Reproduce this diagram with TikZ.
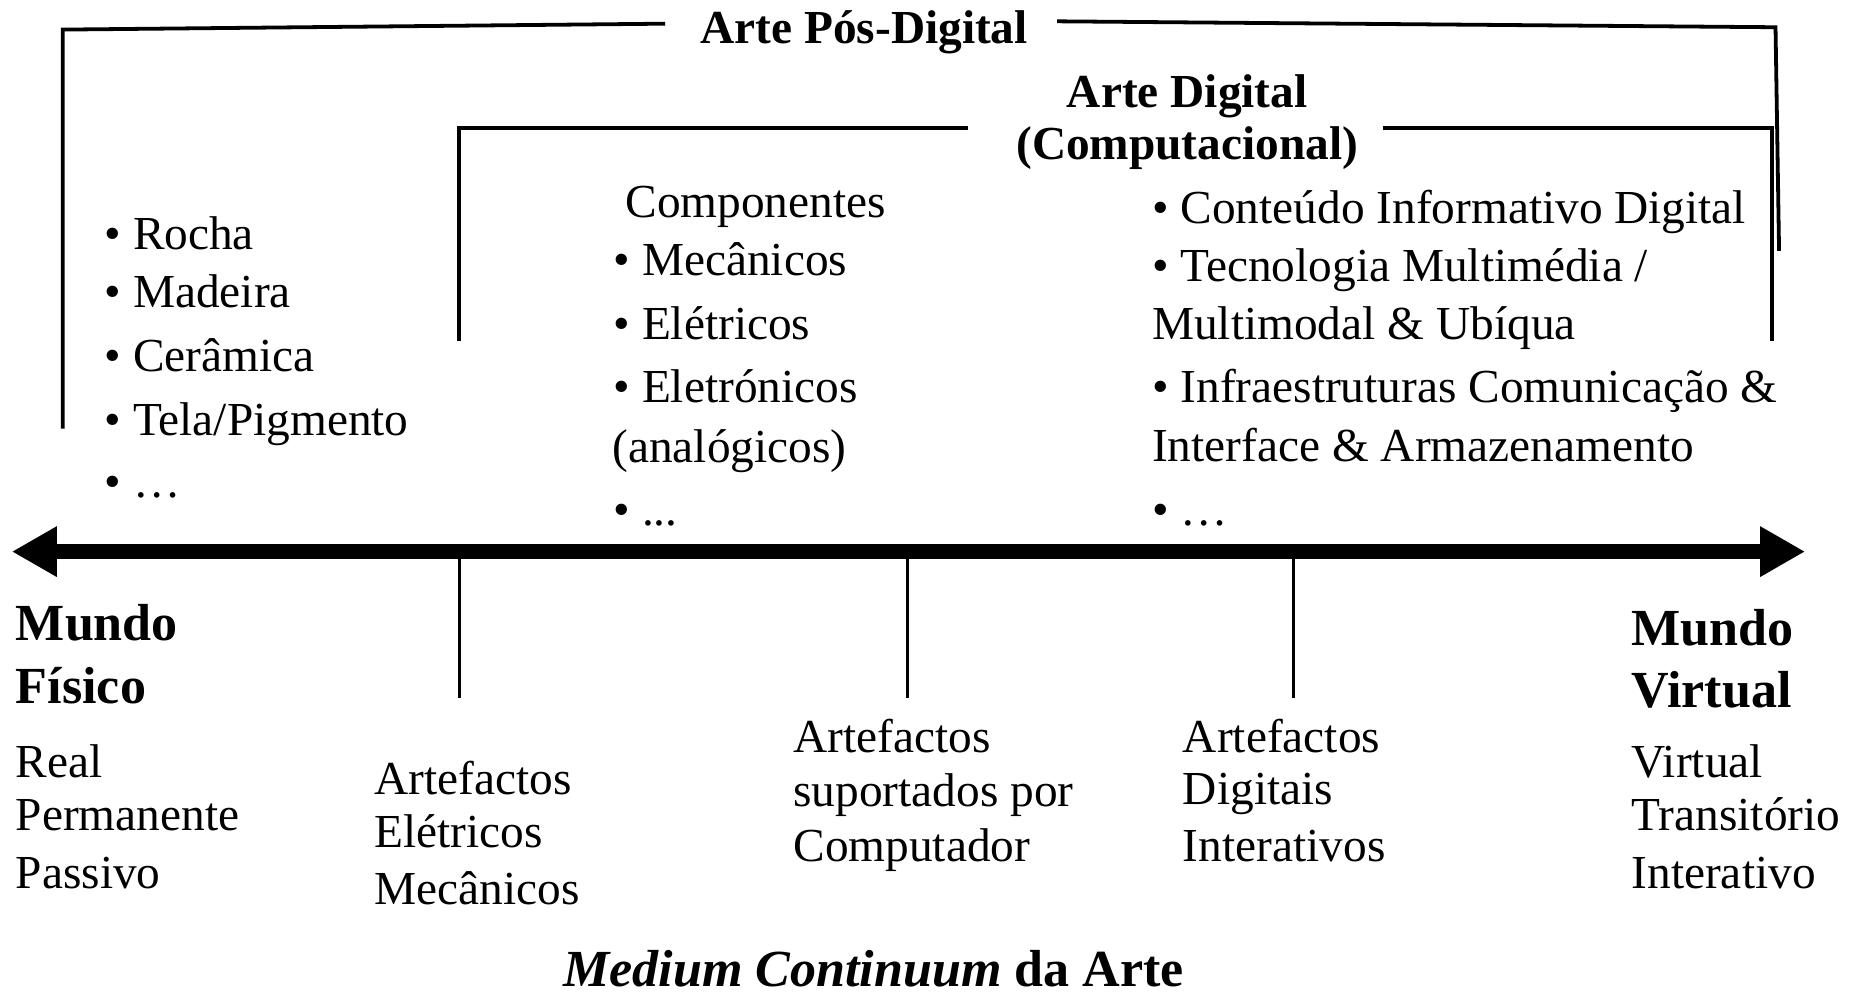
\documentclass[tikz,border=0pt]{standalone}
\usepackage{fontspec}
\setmainfont{Liberation Serif}
\usetikzlibrary{arrows.meta}
\tikzset{
  txt/.style={anchor=base west, inner sep=0pt, font=\fontsize{20}{24}\selectfont},
  ttl/.style={anchor=base, inner sep=0pt, font=\fontsize{20}{24}\selectfont\bfseries},
  big/.style={anchor=base west, inner sep=0pt, font=\fontsize{22}{26}\selectfont\bfseries},
  brk/.style={line width=1.6pt},
  tick/.style={line width=1.3pt},
  axis/.style={line width=6.3pt, {Triangle[length=19pt,width=20pt]}-{Triangle[length=19pt,width=20pt]}}
}
\begin{document}
\begin{tikzpicture}[x=0.5pt,y=-0.5pt]
\useasboundingbox (0,0) rectangle (1568,842);
% titles
\node[ttl] (t1) at (730,37) {Arte Pós-Digital};
\node[ttl] (t2a) at (1003,91) {Arte Digital};
\node[ttl] (t2b) at (1003,135) {(Computacional)};
% bracket coordinates
\coordinate (o1) at (53,362);
\coordinate (o2) at (53,25);
\coordinate (o3) at (562,20);
\coordinate (o4) at (893,18);
\coordinate (o5) at (1500,23);
\coordinate (o6) at (1503,212);
\coordinate (i1) at (388,288);
\coordinate (i2) at (388,108);
\coordinate (i3) at (818,108);
\coordinate (i4) at (1168,108);
\coordinate (i5) at (1497,108);
\coordinate (i6) at (1497,288);
\draw[brk] (o1) -- (o2) -- (o3);
\draw[brk] (o4) -- (o5) -- (o6);
\draw[brk] (i1) -- (i2) -- (i3);
\draw[brk] (i4) -- (i5) -- (i6);
% left list
\node[txt] (l1) at (88,211) {• Rocha};
\node[txt] (l2) at (88,260) {• Madeira};
\node[txt] (l3) at (88,314) {• Cerâmica};
\node[txt] (l4) at (88,368) {• Tela/Pigmento};
\node[txt] (l5) at (88,420) {• …};
% middle list
\node[txt] (m0) at (528,184) {Componentes};
\node[txt] (m1) at (518,233) {• Mecânicos};
\node[txt] (m2) at (518,287) {• Elétricos};
\node[txt] (m3) at (518,340) {• Eletrónicos};
\node[txt] (m4) at (517,391) {(analógicos)};
\node[txt] (m5) at (518,444) {• ...};
% right list
\node[txt] (r1) at (973,189) {• Conteúdo Informativo Digital};
\node[txt] (r2) at (973,238) {• Tecnologia Multimédia /};
\node[txt] (r3) at (973,287) {Multimodal \& Ubíqua};
\node[txt] (r4) at (973,340) {• Infraestruturas Comunicação \&};
\node[txt] (r5) at (973,390) {Interface \& Armazenamento};
\node[txt] (r6) at (973,444) {• …};
% axis
\coordinate (L) at (10,466);
\coordinate (R) at (1525,466);
\draw[axis] (L) -- (R);
\coordinate (k1a) at (388,466); \coordinate (k1b) at (388,590);
\coordinate (k2a) at (767,466); \coordinate (k2b) at (767,590);
\coordinate (k3a) at (1093,466); \coordinate (k3b) at (1093,590);
\draw[tick] (k1a) -- (k1b);
\draw[tick] (k2a) -- (k2b);
\draw[tick] (k3a) -- (k3b);
% bottom labels
\node[big] (mf1) at (13,541) {Mundo};
\node[big] (mf2) at (13,594) {Físico};
\node[txt] (a1) at (13,657) {Real};
\node[txt] (a2) at (13,702) {Permanente};
\node[txt] (a3) at (13,751) {Passivo};
\node[txt] (b1) at (316,671) {Artefactos};
\node[txt] (b2) at (316,716) {Elétricos};
\node[txt] (b3) at (316,764) {Mecânicos};
\node[txt] (c1) at (670,636) {Artefactos};
\node[txt] (c2) at (670,681) {suportados por};
\node[txt] (c3) at (670,728) {Computador};
\node[txt] (d1) at (999,636) {Artefactos};
\node[txt] (d2) at (999,680) {Digitais};
\node[txt] (d3) at (999,728) {Interativos};
\node[big] (mv1) at (1378,545) {Mundo};
\node[big] (mv2) at (1378,598) {Virtual};
\node[txt] (e1) at (1378,657) {Virtual};
\node[txt] (e2) at (1378,702) {Transitório};
\node[txt] (e3) at (1378,751) {Interativo};
\node[anchor=base, inner sep=0pt, font=\fontsize{22}{26}\selectfont\bfseries] (cap) at (738,833) {\textit{Medium Continuum} da Arte};
\end{tikzpicture}
\end{document}
